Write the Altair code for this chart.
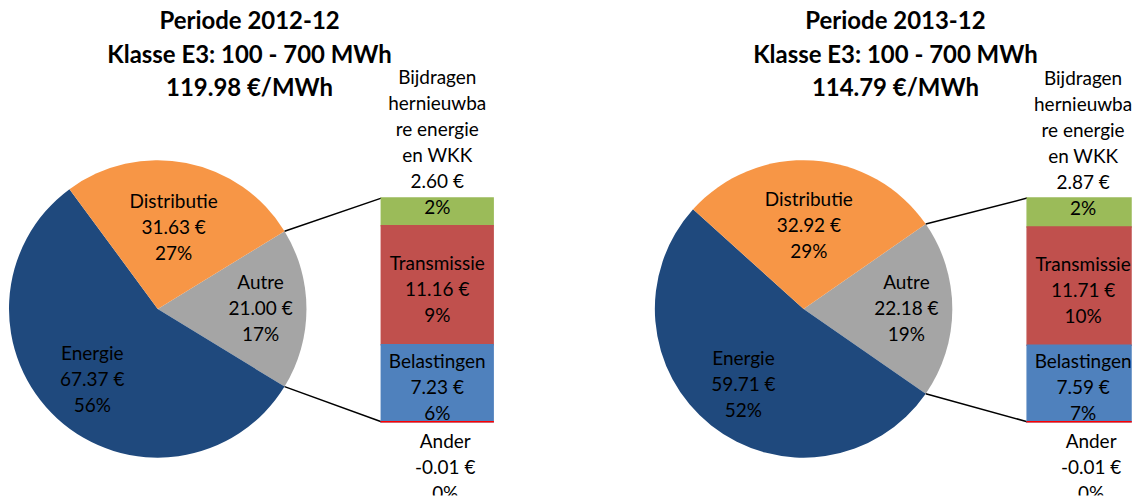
import math
import altair as alt
import pandas as pd

# ---------------- data ----------------
periods = ["2012-12", "2013-12"]
klasse = "Klasse E3: 100 - 700 MWh"
totals = [119.98, 114.79]

main_cats = ["Autre", "Energie", "Distributie"]
main_colors = ["#A5A5A5", "#1F497D", "#F79646"]
main_vals_2012 = [21.00, 67.37, 31.63]
main_vals_2013 = [22.18, 59.71, 32.92]
main_pcts_2012 = [17, 56, 27]
main_pcts_2013 = [19, 52, 29]

sec_cats = ["Bijdragen\nhernieuwba\nre energie\nen WKK", "Transmissie", "Belastingen", "Ander"]
sec_colors = ["#9BBB59", "#C0504D", "#4F81BD", "#FF0000"]
sec_vals_2012 = [2.60, 11.16, 7.23, -0.01]
sec_vals_2013 = [2.87, 11.71, 7.59, -0.01]
sec_pcts_2012 = [2, 9, 6, 0]
sec_pcts_2013 = [2, 10, 7, 0]

main_vals = [main_vals_2012, main_vals_2013]
main_pcts = [main_pcts_2012, main_pcts_2013]
sec_vals = [sec_vals_2012, sec_vals_2013]
sec_pcts = [sec_pcts_2012, sec_pcts_2013]

# ---------------- layout ----------------
PANEL_W = [647, 478]
H = 488
CX, CY, R = 150, 301, 149
LABEL_R = {"Autre": 103, "Energie": 97, "Distributie": 83}
BAR_X0 = 374
BAR_X1 = [486, 478]
BAR_TOP, BAR_BOT = 190, 414
FONT = "Lato"
FS = 19
LH = 26


def fmt_eur(v):
    return f"{v:.2f} €"


def panel(i):
    mv, mp, sv, sp = main_vals[i], main_pcts[i], sec_vals[i], sec_pcts[i]
    msum = sum(mv)
    frac = mv[0] / msum
    start = math.pi / 2 - frac * math.pi
    theta_scale = alt.Scale(domain=[0, msum], range=[start, start + 2 * math.pi], nice=False, zero=False)
    color_scale = alt.Scale(domain=main_cats, range=main_colors)

    cum = []
    acc = 0.0
    for v in mv:
        cum.append(acc + v / 2)
        acc += v
    pie_df = pd.DataFrame({
        "cat": main_cats,
        "value": mv,
        "mid": cum,
        "ord": list(range(len(main_cats))),
        "label": [f"{c}\n{fmt_eur(v)}\n{p}%" for c, v, p in zip(main_cats, mv, mp)],
    })
    pie = alt.Chart(pie_df).mark_arc(outerRadius=R).encode(
        theta=alt.Theta("value:Q", stack=True, scale=theta_scale),
        order=alt.Order("ord:Q"),
        x=alt.value(CX),
        y=alt.value(CY),
        color=alt.Color("cat:N", scale=color_scale, legend=None),
    )
    pie_texts = []
    for c in main_cats:
        pie_texts.append(
            alt.Chart(pie_df).transform_filter(alt.datum.cat == c).mark_text(
                radius=LABEL_R[c], font=FONT, fontSize=FS, lineHeight=LH, dy=-LH,
                lineBreak="\n", baseline="middle", align="center", color="black"
            ).encode(
                theta=alt.Theta("mid:Q", stack=None, scale=theta_scale),
                x=alt.value(CX),
                y=alt.value(CY),
                text="label:N",
            )
        )

    order_up = [2, 1, 0]
    y0 = {}
    y1 = {}
    acc = 0.0
    for k in order_up:
        y0[k] = acc
        acc += sv[k]
        y1[k] = acc
    pos_total = acc
    y0[3] = 0.0
    y1[3] = sv[3]
    bar_df = pd.DataFrame({
        "cat": sec_cats,
        "y0": [y0[k] for k in range(4)],
        "y1": [y1[k] for k in range(4)],
        "mid": [(y0[k] + y1[k]) / 2 for k in range(4)],
        "label": [f"{c}\n{fmt_eur(v)}\n{p}%" for c, v, p in zip(sec_cats, sv, sp)],
    })
    yscale = alt.Scale(domain=[0, pos_total], range=[BAR_BOT, BAR_TOP], nice=False, zero=False)
    sec_color = alt.Scale(domain=sec_cats, range=sec_colors)
    bars = alt.Chart(bar_df).mark_bar(strokeWidth=1.5).encode(
        x=alt.value(BAR_X0), x2=alt.value(BAR_X1[i]),
        y=alt.Y("y0:Q", scale=yscale, axis=None), y2="y1:Q",
        color=alt.Color("cat:N", scale=sec_color, legend=None),
        stroke=alt.Stroke("cat:N", scale=sec_color, legend=None),
    )
    mid_df = bar_df.iloc[[1, 2]]
    top_df = bar_df.iloc[[0]]
    low_df = bar_df.iloc[[3]]
    tkw = dict(font=FONT, fontSize=FS, lineHeight=LH, lineBreak="\n", align="center",
               baseline="middle", color="black")
    bx = (BAR_X0 + 486) / 2
    t_mid = alt.Chart(mid_df).mark_text(dy=-LH + 5, **tkw).encode(
        x=alt.value(bx), y=alt.Y("mid:Q", scale=yscale, axis=None), text="label:N")
    t_top = alt.Chart(top_df).mark_text(dy=-5 * LH - 4, **tkw).encode(
        x=alt.value(bx), y=alt.Y("mid:Q", scale=yscale, axis=None), text="label:N")
    t_low = alt.Chart(low_df).mark_text(dy=20, dx=8, clip=True, **tkw).encode(
        x=alt.value(bx), y=alt.Y("y1:Q", scale=yscale, axis=None), text="label:N")

    a1 = start
    a2 = start + frac * 2 * math.pi
    conn = []
    for a, by in [(a1, BAR_TOP), (a2, BAR_BOT)]:
        conn.append(alt.Chart(pie_df.iloc[[0]]).mark_rule(color="black", strokeWidth=1.5).encode(
            x=alt.value(CX + R * math.sin(a)), y=alt.value(CY - R * math.cos(a)),
            x2=alt.value(BAR_X0), y2=alt.value(by)))

    title_df = pd.DataFrame({"t": [f"Periode {periods[i]}\n{klasse}\n{totals[i]:.2f} €/MWh"]})
    title = alt.Chart(title_df).mark_text(font=FONT, fontSize=24, fontWeight="bold", lineHeight=33.5,
                                          lineBreak="\n", align="center", baseline="middle",
                                          color="black").encode(
        x=alt.value(242), y=alt.value(14), text="t:N")

    return alt.layer(pie, *conn, bars, *pie_texts, t_mid, t_top, t_low, title).properties(
        width=PANEL_W[i], height=H).resolve_scale(color="independent", stroke="independent")


chart = alt.hconcat(panel(0), panel(1), spacing=0).properties(
    padding=0
).configure_view(stroke=None).resolve_scale(color="independent", stroke="independent",
                                             theta="independent", y="independent")

chart.save("out.html", embed_options={"renderer": "svg", "actions": False})
